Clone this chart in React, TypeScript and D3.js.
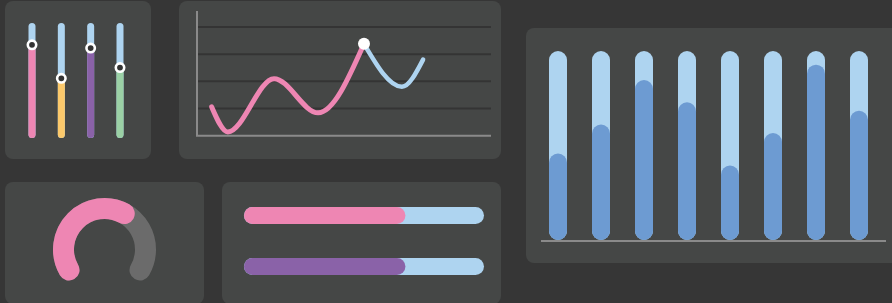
import React, { useRef, useEffect } from "react";
import * as d3 from "d3";

// slider panel
const sliderColors = ["#ee86b3", "#fcc96b", "#8a62a8", "#9bd1a5"];
const sliderValues = [83, 52, 80, 62];

// line panel
const pinkLine = [
  { x: 5, y: 1.06 },
  { x: 10.5, y: 0.14 },
  { x: 26.2, y: 2.1 },
  { x: 41.2, y: 0.84 },
  { x: 56.8, y: 3.38 },
];
const blueLine = [
  { x: 56.8, y: 3.38 },
  { x: 69.7, y: 1.8 },
  { x: 76.9, y: 2.8 },
];
const gridTicks = [1, 2, 3, 4];

// gauge
const gaugeValue = 62;

// progress bars
const progressColors = ["#ee86b3", "#8a62a8"];
const progressValues = [67, 67];

// bar panel
const barValues = [40, 57, 83, 70, 33, 52, 92, 65];

const W = 892;
const H = 303;

export default function App() {
  const svgRef = useRef<SVGSVGElement>(null);

  useEffect(() => {
    document.body.style.margin = "0";
    if (!svgRef.current) return;
    const svg = d3.select(svgRef.current);
    svg.selectAll("*").remove();

    const panelFill = "#454746";
    const trackBlue = "#aed4f0";

    svg.append("rect").attr("width", W).attr("height", H).attr("fill", "#363636");

    const panel = (x: number, y: number, w: number, h: number) =>
      svg
        .append("rect")
        .attr("x", x)
        .attr("y", y)
        .attr("width", w)
        .attr("height", h)
        .attr("rx", 8)
        .attr("fill", panelFill);

    panel(5, 1, 146, 158);
    panel(179, 1, 322, 158);
    panel(5, 182, 199, 122);
    panel(222, 182, 279, 122);
    panel(526, 28, 380, 235);

    // --- sliders
    const sx = d3.scalePoint<number>().domain(d3.range(4)).range([32, 120]);
    const sy = d3.scaleLinear().domain([0, 100]).range([134.5, 26.5]);
    sliderValues.forEach((v, i) => {
      const g = svg.append("g");
      g.append("line")
        .attr("x1", sx(i)!)
        .attr("x2", sx(i)!)
        .attr("y1", sy(100))
        .attr("y2", sy(0))
        .attr("stroke", trackBlue)
        .attr("stroke-width", 7)
        .attr("stroke-linecap", "round");
      g.append("line")
        .attr("x1", sx(i)!)
        .attr("x2", sx(i)!)
        .attr("y1", sy(v))
        .attr("y2", sy(0))
        .attr("stroke", sliderColors[i])
        .attr("stroke-width", 7)
        .attr("stroke-linecap", "round");
      g.append("circle")
        .attr("cx", sx(i)!)
        .attr("cy", sy(v))
        .attr("r", 4.2)
        .attr("fill", "#333")
        .attr("stroke", "#fff")
        .attr("stroke-width", 2.6);
    });

    // --- line chart
    const lx = d3.scaleLinear().domain([0, 100]).range([197, 491]);
    const ly = d3.scaleLinear().domain([0, 4]).range([135.7, 27]);
    gridTicks.forEach((t) => {
      svg
        .append("line")
        .attr("x1", lx(0))
        .attr("x2", lx(100))
        .attr("y1", ly(t))
        .attr("y2", ly(t))
        .attr("stroke", "#343434")
        .attr("stroke-width", 2);
    });
    svg
      .append("path")
      .attr("d", `M${lx(0)},11V${ly(0)}H${lx(100)}`)
      .attr("fill", "none")
      .attr("stroke", "#8a8a8a")
      .attr("stroke-width", 2);

    const line = d3
      .line<{ x: number; y: number }>()
      .x((d) => lx(d.x))
      .y((d) => ly(d.y))
      .curve(d3.curveMonotoneX);
    svg
      .append("path")
      .attr("d", line(blueLine))
      .attr("fill", "none")
      .attr("stroke", trackBlue)
      .attr("stroke-width", 4.5)
      .attr("stroke-linecap", "round");
    svg
      .append("path")
      .attr("d", line(pinkLine))
      .attr("fill", "none")
      .attr("stroke", "#ee86b3")
      .attr("stroke-width", 5)
      .attr("stroke-linecap", "round");
    const peak = pinkLine[pinkLine.length - 1];
    svg
      .append("circle")
      .attr("cx", lx(peak.x))
      .attr("cy", ly(peak.y))
      .attr("r", 6)
      .attr("fill", "#fff");

    // --- gauge
    const ga = d3.scaleLinear().domain([0, 100]).range([-120, 120]);
    const gcx = 104.5;
    const gcy = 249.5;
    const gr = 41;
    const arcPath = (a0: number, a1: number) => {
      const p = d3.path();
      const r0 = ((a0 - 90) * Math.PI) / 180;
      const r1 = ((a1 - 90) * Math.PI) / 180;
      p.arc(gcx, gcy, gr, r0, r1, false);
      return p.toString();
    };
    svg
      .append("path")
      .attr("d", arcPath(ga(0), ga(100)))
      .attr("fill", "none")
      .attr("stroke", "#6b6b6b")
      .attr("stroke-width", 21)
      .attr("stroke-linecap", "round");
    svg
      .append("path")
      .attr("d", arcPath(ga(0), ga(gaugeValue)))
      .attr("fill", "none")
      .attr("stroke", "#ee86b3")
      .attr("stroke-width", 21)
      .attr("stroke-linecap", "round");

    // --- progress bars
    const px = d3.scaleLinear().domain([0, 100]).range([252.5, 475.5]);
    const py = d3.scalePoint<number>().domain([0, 1]).range([215.5, 266.5]);
    progressValues.forEach((v, i) => {
      svg
        .append("line")
        .attr("x1", px(0))
        .attr("x2", px(100))
        .attr("y1", py(i)!)
        .attr("y2", py(i)!)
        .attr("stroke", trackBlue)
        .attr("stroke-width", 17)
        .attr("stroke-linecap", "round");
      svg
        .append("line")
        .attr("x1", px(0))
        .attr("x2", px(v) - 5)
        .attr("y1", py(i)!)
        .attr("y2", py(i)!)
        .attr("stroke", progressColors[i])
        .attr("stroke-width", 17)
        .attr("stroke-linecap", "round");
    });

    // --- vertical bar chart
    const bx = d3
      .scalePoint<number>()
      .domain(d3.range(barValues.length))
      .range([558, 859]);
    const by = d3.scaleLinear().domain([0, 100]).range([231, 60]);
    const bw = 18;
    barValues.forEach((v, i) => {
      svg
        .append("line")
        .attr("x1", bx(i)!)
        .attr("x2", bx(i)!)
        .attr("y1", by(100))
        .attr("y2", by(0))
        .attr("stroke", trackBlue)
        .attr("stroke-width", bw)
        .attr("stroke-linecap", "round");
      svg
        .append("line")
        .attr("x1", bx(i)!)
        .attr("x2", bx(i)!)
        .attr("y1", by(v))
        .attr("y2", by(0))
        .attr("stroke", "#6d9bd2")
        .attr("stroke-width", bw)
        .attr("stroke-linecap", "round");
    });
    svg
      .append("line")
      .attr("x1", 541)
      .attr("x2", 886)
      .attr("y1", 241)
      .attr("y2", 241)
      .attr("stroke", "#8a8a8a")
      .attr("stroke-width", 2);
  }, []);

  return (
    <svg
      ref={svgRef}
      width={W}
      height={H}
      viewBox={`0 0 ${W} ${H}`}
      style={{ display: "block" }}
    />
  );
}
